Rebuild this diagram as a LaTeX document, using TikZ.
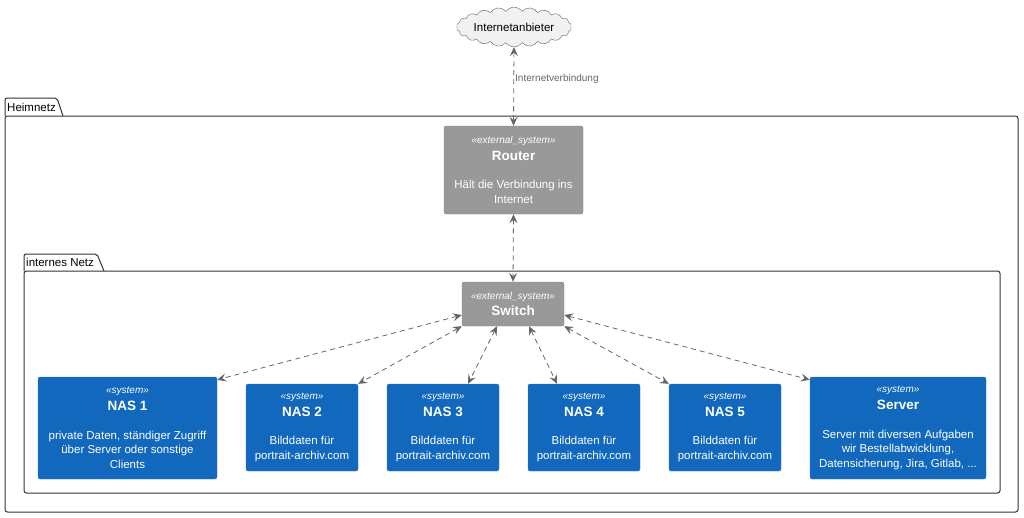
\documentclass[tikz,border=0pt]{standalone}
\usepackage{fontspec}
\setmainfont{Liberation Sans}
\usepackage{xcolor}
\usetikzlibrary{arrows.meta,shapes.symbols}

\definecolor{sysblue}{HTML}{1168BD}
\definecolor{sysborder}{HTML}{3C7FC0}
\definecolor{extgray}{HTML}{999999}
\definecolor{extborder}{HTML}{8A8A8A}
\definecolor{linkgray}{HTML}{666666}
\definecolor{cloudfill}{HTML}{F1F1F1}
\definecolor{pkgline}{HTML}{333333}

\newcommand{\stereo}[1]{{\fontsize{10}{12}\selectfont\itshape «#1»}}
\newcommand{\boxtitle}[1]{{\fontsize{13.5}{16}\selectfont\bfseries #1}}

\begin{document}
\begin{tikzpicture}[x=1pt,y=-1pt,
                    sysbox/.style={draw=sysborder, fill=sysblue, text=white, rounded corners=2pt,
                                   align=center, inner sep=0pt, font=\fontsize{11.5}{14.8}\selectfont},
                    extbox/.style={draw=extborder, fill=extgray, text=white, rounded corners=2pt,
                                   align=center, inner sep=0pt, font=\fontsize{11.5}{14.8}\selectfont},
                    link/.style={draw=linkgray, line width=0.8pt, dash pattern=on 5pt off 4pt,
                                 {Stealth[length=9pt,width=8pt,inset=3.5pt]}-{Stealth[length=9pt,width=8pt,inset=3.5pt]}},
                    pkg/.style={draw=pkgline, line width=1pt},
                    pkglbl/.style={anchor=west, inner sep=0pt, font=\fontsize{11.5}{13}\selectfont},
                    lbl/.style={text=linkgray, inner sep=1pt, font=\fontsize{10}{11}\selectfont}]
    \useasboundingbox (0,0) rectangle (1024,517);

    % Heimnetz
    \draw[pkg, rounded corners=2pt] (5,116) |- (57,98) -- (63,116);
    \draw[pkg, rounded corners=2.5pt] (5,116) rectangle (1018,512);
    \node[pkglbl] (heimnetz) at (7,107) {Heimnetz};

    % internes Netz
    \draw[pkg, rounded corners=2pt] (24,271) |- (97,254) -- (104,271);
    \draw[pkg, rounded corners=2.5pt] (24,271) rectangle (1000,493);
    \node[pkglbl] (intern) at (26,262.5) {internes Netz};

    \node[cloud, cloud puffs=22, cloud puff arc=110, aspect=3.6, draw=linkgray, fill=cloudfill,
          minimum width=104pt, minimum height=28pt, inner sep=0pt,
          font=\fontsize{11.5}{13}\selectfont] (isp) at (514,27) {Internetanbieter};

    \node[extbox, minimum width=139pt, minimum height=88pt] (router) at (513.5,170)
        {\stereo{external\_system}\\[2pt] \boxtitle{Router}\\[14pt] Hält die Verbindung ins\\ Internet};
    \node[extbox, minimum width=102pt, minimum height=44pt] (switch) at (513,304)
        {\stereo{external\_system}\\[2pt] \boxtitle{Switch}};

    \node[sysbox, minimum width=179pt, minimum height=102pt] (nas1) at (127.5,428)
        {\stereo{system}\\[2pt] \boxtitle{NAS 1}\\[14pt] private Daten, ständiger Zugriff\\ über Server oder sonstige\\ Clients};
    \node[sysbox, minimum width=112pt, minimum height=87pt] (nas2) at (302,427.5)
        {\stereo{system}\\[2pt] \boxtitle{NAS 2}\\[14pt] Bilddaten für\\ portrait-archiv.com};
    \node[sysbox, minimum width=112pt, minimum height=87pt] (nas3) at (443,427.5)
        {\stereo{system}\\[2pt] \boxtitle{NAS 3}\\[14pt] Bilddaten für\\ portrait-archiv.com};
    \node[sysbox, minimum width=112pt, minimum height=87pt] (nas4) at (584,427.5)
        {\stereo{system}\\[2pt] \boxtitle{NAS 4}\\[14pt] Bilddaten für\\ portrait-archiv.com};
    \node[sysbox, minimum width=112pt, minimum height=87pt] (nas5) at (725,427.5)
        {\stereo{system}\\[2pt] \boxtitle{NAS 5}\\[14pt] Bilddaten für\\ portrait-archiv.com};
    \node[sysbox, minimum width=176pt, minimum height=102pt] (server) at (898,428)
        {\stereo{system}\\[2pt] \boxtitle{Server}\\[14pt] Server mit diversen Aufgaben\\ wir Bestellabwicklung,\\ Datensicherung, Jira, Gitlab, ...};

    % Verbindungen
    \draw[link] (isp.south) -- node[lbl, right, pos=0.41] {Internetverbindung} (router.north);
    \draw[link] (router.south) -- (switch.north);
    \draw[link] ([yshift=-11pt]switch.west) -- ([yshift=-3pt]nas1.north east);
    \draw[link] (switch.south west) -- (nas2.north east);
    \draw[link] ([xshift=-16pt]switch.south) -- ([xshift=25pt]nas3.north);
    \draw[link] ([xshift=16pt]switch.south) -- ([xshift=-27pt]nas4.north);
    \draw[link] (switch.south east) -- (nas5.north west);
    \draw[link] ([yshift=-11pt]switch.east) -- ([yshift=-3pt]server.north west);
\end{tikzpicture}
\end{document}
